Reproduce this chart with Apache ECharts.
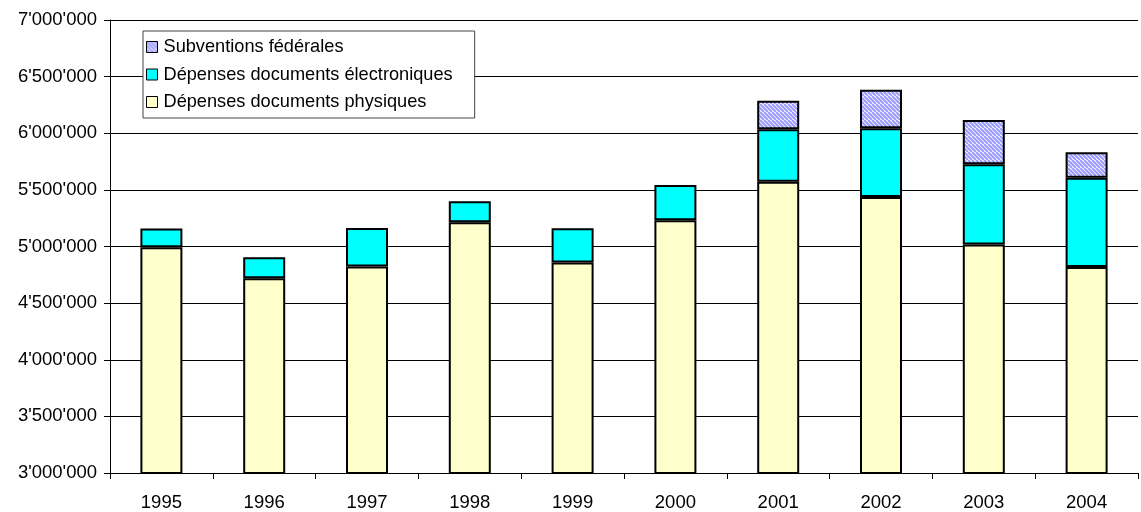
<!DOCTYPE html>
<html><head><meta charset="utf-8">
<script src="https://cdn.jsdelivr.net/npm/echarts@6/dist/echarts.min.js"></script>
<style>html,body{margin:0;padding:0;background:#fff}#c{width:1141px;height:512px}</style>
</head><body><div id="c"></div>
<script>
var years = ['1995','1996','1997','1998','1999','2000','2001','2002','2003','2004'];
var physiques = [4994000, 4720000, 4823000, 5215000, 4859000, 5232000, 5571000, 5436000, 5018000, 4820000];
var electroniques = [165000, 185000, 341000, 185000, 303000, 312000, 464000, 608000, 708000, 788000];
var subventions = [null, null, null, null, null, null, 253000, 341000, 391000, 224000];
var yTicks = [3000000, 3500000, 4000000, 4500000, 5000000, 5500000, 6000000, 6500000, 7000000];
var names = ['Subventions fédérales', 'Dépenses documents électroniques', 'Dépenses documents physiques'];

function hatch() {
  var c = document.createElement('canvas');
  c.width = 8; c.height = 8;
  var g = c.getContext('2d');
  g.fillStyle = '#ffffff'; g.fillRect(0, 0, 8, 8);
  g.strokeStyle = '#9a9aff'; g.lineWidth = 2;
  for (var k = -8; k <= 16; k += 4) {
    g.beginPath(); g.moveTo(k, 0); g.lineTo(k + 8, 8); g.stroke();
  }
  return c;
}
var pat = { image: hatch(), repeat: 'repeat' };

function fmt(v) {
  return String(v).replace(/\B(?=(\d{3})+(?!\d))/g, "'");
}
var font = 'Liberation Sans, Arial, sans-serif';
var border = { borderColor: '#000', borderWidth: 2 };

var chart = echarts.init(document.getElementById('c'));
chart.setOption({
  animation: false,
  backgroundColor: '#fff',
  textStyle: { fontFamily: font },
  grid: { left: 110, right: 3, top: 20, bottom: 38, containLabel: false },
  legend: {
    data: names,
    orient: 'vertical',
    icon: 'rect',
    left: 143, top: 31,
    padding: [7, 22, 7, 3],
    itemGap: 9.5,
    itemWidth: 11, itemHeight: 11,
    backgroundColor: '#fff',
    borderColor: '#444', borderWidth: 1,
    textStyle: { fontSize: 18.2, color: '#000', fontFamily: font, padding: [0, 0, 0, 1] },
    itemStyle: { borderColor: '#000', borderWidth: 1 }
  },
  xAxis: {
    type: 'category', data: years,
    axisLine: { lineStyle: { color: '#000', width: 1 } },
    axisTick: { show: true, length: 6, alignWithLabel: false, lineStyle: { color: '#000' } },
    axisLabel: { fontSize: 18.5, color: '#000', margin: 20, fontFamily: font }
  },
  yAxis: {
    type: 'value', min: yTicks[0], max: yTicks[yTicks.length - 1], interval: 500000,
    axisLine: { show: true, lineStyle: { color: '#000', width: 1 } },
    axisTick: { show: true, length: 6, lineStyle: { color: '#000' } },
    axisLabel: { fontSize: 18.5, color: '#000', margin: 13, fontFamily: font, formatter: fmt },
    splitLine: { show: true, lineStyle: { color: '#000', width: 1 } }
  },
  series: [
    { name: names[2], type: 'bar', stack: 't', data: physiques, barWidth: 42,
      itemStyle: Object.assign({ color: '#ffffcc' }, border) },
    { name: names[1], type: 'bar', stack: 't', data: electroniques, barWidth: 42,
      itemStyle: Object.assign({ color: '#00ffff' }, border) },
    { name: names[0], type: 'bar', stack: 't', data: subventions, barWidth: 42,
      itemStyle: Object.assign({ color: pat }, border) }
  ]
});
</script></body></html>
